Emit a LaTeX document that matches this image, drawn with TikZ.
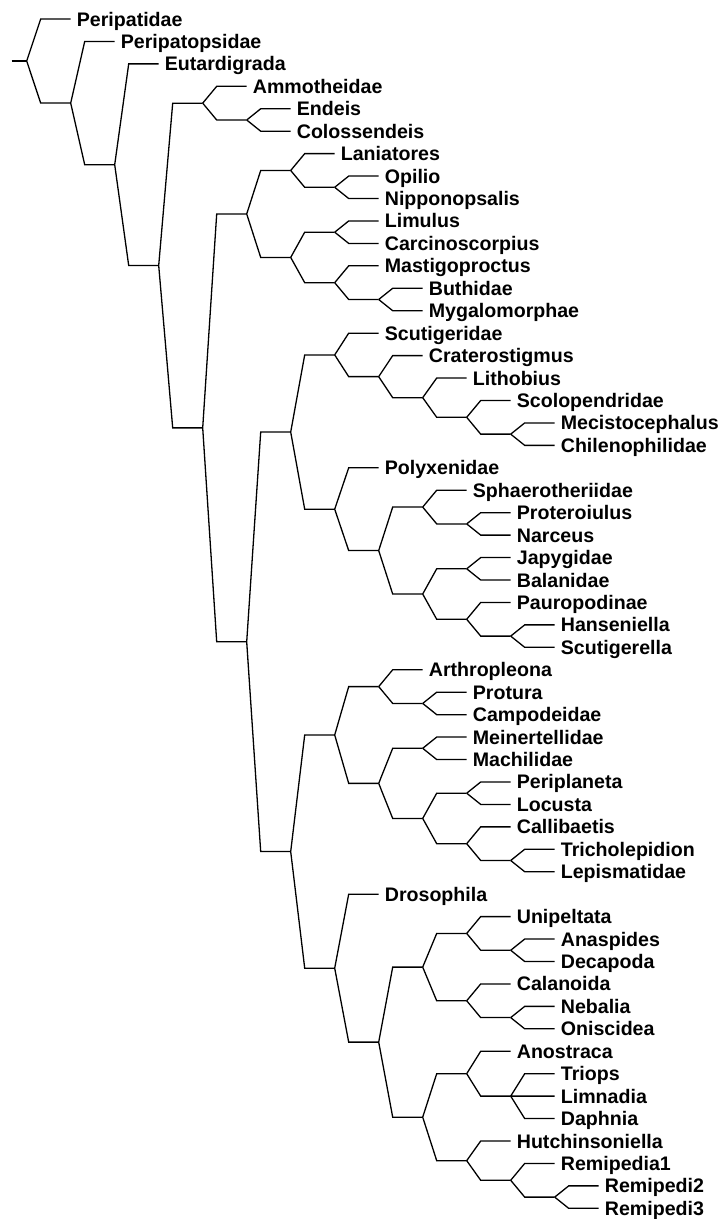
\documentclass[tikz,border=0pt]{standalone}
\usepackage{fontspec}
\setmainfont{Liberation Sans}
\usepackage{tikz}
\usetikzlibrary{calc}
\definecolor{tink}{HTML}{000000}
\tikzset{
 twig/.style={to path={-- ([xshift=-30pt]\tikztotarget) -- (\tikztotarget)}},
 taxon/.style={anchor=base west,inner sep=0pt,text=tink,font=\bfseries\fontsize{19.6}{20}\selectfont}
}

\begin{document}
\begin{tikzpicture}[x=1pt,y=-1pt,line width=1.3pt,draw=tink]
 \useasboundingbox (0,0) rectangle (720,1219);
 \foreach \nm/\dep [count=\k from 0] in {Peripatidae/0,Peripatopsidae/1,Eutardigrada/2,Ammotheidae/4,Endeis/5,Colossendeis/5,
  Laniatores/6,Opilio/7,Nipponopsalis/7,Limulus/7,Carcinoscorpius/7,Mastigoproctus/7,Buthidae/8,Mygalomorphae/8,
  Scutigeridae/7,Craterostigmus/8,Lithobius/9,Scolopendridae/10,Mecistocephalus/11,Chilenophilidae/11,
  Polyxenidae/7,Sphaerotheriidae/9,Proteroiulus/10,Narceus/10,Japygidae/10,Balanidae/10,Pauropodinae/10,Hanseniella/11,Scutigerella/11,
  Arthropleona/8,Protura/9,Campodeidae/9,Meinertellidae/9,Machilidae/9,Periplaneta/10,Locusta/10,Callibaetis/10,Tricholepidion/11,Lepismatidae/11,
  Drosophila/7,Unipeltata/10,Anaspides/11,Decapoda/11,Calanoida/10,Nebalia/11,Oniscidea/11,
  Anostraca/10,Triops/11,Limnadia/11,Daphnia/11,Hutchinsoniella/10,Remipedia1/11,Remipedi2/12,Remipedi3/12}{
  \coordinate (\nm) at ({26.7+44*(\dep+1)},{19+22.44*\k});
  \node[taxon] (t\k) at ([shift={(5.5,7)}]\nm) {\nm};
 }
 \path (Limnadia) ++(-44,0) coordinate (Phyl);
 \draw (Phyl) to[twig] (Triops) (Phyl) -- (Limnadia) (Phyl) to[twig] (Daphnia);
 \foreach \nm/\dep/\a/\b in {Pyc2/5/Endeis/Colossendeis,Pyc/4/Ammotheidae/Pyc2,
  Opil2/7/Opilio/Nipponopsalis,Opil/6/Laniatores/Opil2,Xipho/7/Limulus/Carcinoscorpius,
  Arach4/8/Buthidae/Mygalomorphae,Arach3/7/Mastigoproctus/Arach4,Arach2/6/Xipho/Arach3,Arach/5/Opil/Arach2,
  Chilo5/11/Mecistocephalus/Chilenophilidae,Chilo4/10/Scolopendridae/Chilo5,Chilo3/9/Lithobius/Chilo4,
  Chilo2/8/Craterostigmus/Chilo3,Chilo/7/Scutigeridae/Chilo2,
  Dip2/10/Proteroiulus/Narceus,Dip/9/Sphaerotheriidae/Dip2,Jap/10/Japygidae/Balanidae,Sym/11/Hanseniella/Scutigerella,
  Paur/10/Pauropodinae/Sym,Progo3/9/Jap/Paur,Progo2/8/Dip/Progo3,Progo/7/Polyxenidae/Progo2,Myria/6/Chilo/Progo,
  Ento2/9/Protura/Campodeidae,Ento/8/Arthropleona/Ento2,Archa/9/Meinertellidae/Machilidae,Neo/10/Periplaneta/Locusta,
  Zyg3/11/Tricholepidion/Lepismatidae,Zyg2/10/Callibaetis/Zyg3,Zyg/9/Neo/Zyg2,Ecto/8/Archa/Zyg,Hexa/7/Ento/Ecto,
  Mal4/11/Anaspides/Decapoda,Mal2/10/Unipeltata/Mal4,Mal5/11/Nebalia/Oniscidea,Mal3/10/Calanoida/Mal5,Mal/9/Mal2/Mal3,
  Bra2/10/Anostraca/Phyl,Rem2/12/Remipedi2/Remipedi3,Rem/11/Remipedia1/Rem2,Bra3/10/Hutchinsoniella/Rem,Bra/9/Bra2/Bra3,
  Crus2/8/Mal/Bra,Crus/7/Drosophila/Crus2,Pancr/6/Hexa/Crus,Mand/5/Myria/Pancr,Arth/4/Arach/Mand,
  Nthree/3/Pyc/Arth,Ntwo/2/Eutardigrada/Nthree,None/1/Peripatopsidae/Ntwo,Root/0/Peripatidae/None}{
  \path let \p1=(\a),\p2=(\b) in ({26.7pt+44pt*\dep},{0.5*(\y1+\y2)}) coordinate (\nm);
  \draw (\nm) to[twig] (\a) (\nm) to[twig] (\b);
 }
 \path (Root) ++(-15,0) coordinate (stem);
 \draw (stem) -- (Root);
\end{tikzpicture}
\end{document}
